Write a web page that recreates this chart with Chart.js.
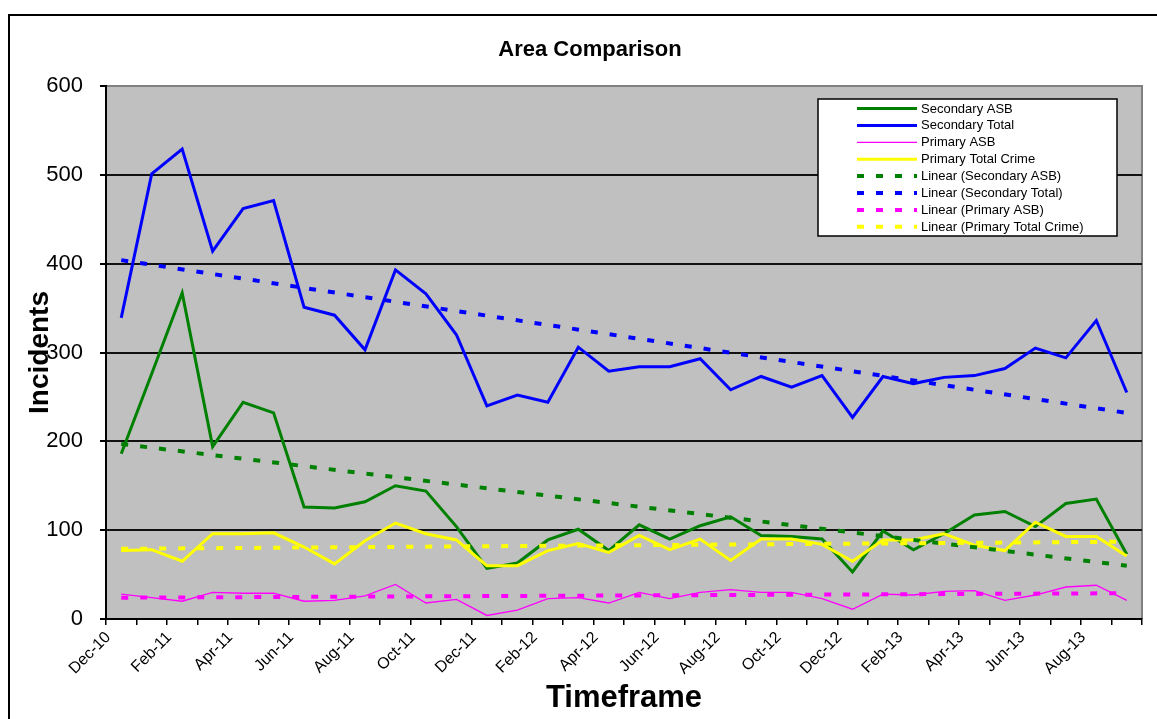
<!DOCTYPE html>
<html>
<head>
<meta charset="utf-8">
<title>Area Comparison</title>
<script src="https://cdn.jsdelivr.net/npm/chart.js@4.4.1/dist/chart.umd.min.js"></script>
<style>
  html, body { margin: 0; padding: 0; background: #fff; }
  #wrap { width: 1157px; height: 719px; }
</style>
</head>
<body>
<div id="wrap"><canvas id="chart" width="1157" height="719"></canvas></div>
<script>
// monthly figures, Dec-10 .. Sep-13
const months = [
  "Dec-10", "Jan-11", "Feb-11", "Mar-11", "Apr-11", "May-11", "Jun-11", "Jul-11", "Aug-11",
  "Sep-11", "Oct-11", "Nov-11", "Dec-11", "Jan-12", "Feb-12", "Mar-12", "Apr-12", "May-12",
  "Jun-12", "Jul-12", "Aug-12", "Sep-12", "Oct-12", "Nov-12", "Dec-12", "Jan-13", "Feb-13",
  "Mar-13", "Apr-13", "May-13", "Jun-13", "Jul-13", "Aug-13", "Sep-13"
];

const secondaryAsb = [186, 276, 367, 194, 244, 232, 126, 125, 132, 150, 144, 104, 57, 63, 89, 101, 77, 106,
  90, 105, 115, 94, 93, 90, 53, 99, 78, 96, 117, 121, 104, 130, 135, 73];
const secondaryTotal = [339, 501, 529, 414, 462, 471, 351, 342, 303, 393, 366, 320, 240, 252, 244, 306, 279, 284,
  284, 293, 258, 273, 261, 274, 227, 273, 265, 272, 274, 282, 305, 294, 336, 255];
const primaryAsb = [28, 24, 20, 30, 29, 29, 20, 21, 26, 39, 18, 22, 4, 10, 23, 24, 18, 30,
  23, 30, 33, 30, 30, 23, 11, 28, 27, 31, 32, 21, 27, 36, 38, 21];
const primaryTotalCrime = [77, 78, 65, 96, 96, 97, 81, 62, 88, 108, 96, 89, 60, 60, 77, 85, 75, 94,
  78, 90, 66, 90, 90, 84, 65, 89, 89, 96, 83, 77, 109, 93, 93, 71];

// linear trendline ends (first month, last month)
const trendStart = [197, 404, 24, 79];
const trendEnd = [60, 232, 29, 87];

const seriesNames = ["Secondary ASB", "Secondary Total", "Primary ASB", "Primary Total Crime"];
const seriesValues = [secondaryAsb, secondaryTotal, primaryAsb, primaryTotalCrime];
const seriesColors = ["#008000", "#0000ff", "#ff00ff", "#ffff00"];
const seriesWidths = [3, 3, 1.3, 3];

const yTicks = [0, 100, 200, 300, 400, 500, 600];

const FONT = "'Liberation Sans', Arial, sans-serif";

const lineSets = seriesNames.map((name, i) => ({
  label: name,
  data: seriesValues[i],
  borderColor: seriesColors[i],
  backgroundColor: seriesColors[i],
  borderWidth: seriesWidths[i],
  borderJoinStyle: "miter",
  order: 20 - i,
}));

const trendSets = seriesNames.map((name, i) => ({
  label: "Linear (" + name + ")",
  data: [
    { x: months[0], y: trendStart[i] },
    { x: months[months.length - 1], y: trendEnd[i] },
  ],
  borderColor: seriesColors[i],
  backgroundColor: seriesColors[i],
  borderWidth: 4,
  borderDash: [7, 12],
  borderCapStyle: "butt",
  order: 10 - i,
}));

// grey plot area, outer frame, title and the boxed legend
const excelLook = {
  id: "excelLook",
  beforeDraw(chart) {
    const { ctx, chartArea: a } = chart;
    ctx.save();
    ctx.fillStyle = "#fff";
    ctx.fillRect(0, 0, chart.width, chart.height);

    ctx.strokeStyle = "#000";
    ctx.lineWidth = 2;
    ctx.beginPath();
    ctx.moveTo(9, chart.height);
    ctx.lineTo(9, 15);
    ctx.lineTo(chart.width, 15);
    ctx.stroke();

    ctx.fillStyle = "#c0c0c0";
    ctx.fillRect(a.left, a.top, a.right - a.left, a.bottom - a.top);
    ctx.strokeStyle = "#808080";
    ctx.beginPath();
    ctx.moveTo(a.left, a.top);
    ctx.lineTo(a.right, a.top);
    ctx.lineTo(a.right, a.bottom);
    ctx.stroke();

    ctx.fillStyle = "#000";
    ctx.font = "bold 22px " + FONT;
    ctx.textAlign = "center";
    ctx.textBaseline = "middle";
    ctx.fillText("Area Comparison", 590, 50);
    ctx.restore();
  },
  afterDraw(chart) {
    const ctx = chart.ctx;
    const x0 = 818, y0 = 99, w = 299, h = 137;
    ctx.save();
    ctx.fillStyle = "#fff";
    ctx.fillRect(x0, y0, w, h);
    ctx.strokeStyle = "#000";
    ctx.lineWidth = 1.5;
    ctx.strokeRect(x0, y0, w, h);

    ctx.font = "13px " + FONT;
    ctx.textAlign = "left";
    ctx.textBaseline = "middle";
    chart.data.datasets.forEach((ds, i) => {
      const y = 108.5 + i * 16.9;
      ctx.setLineDash(ds.borderDash || []);
      ctx.lineCap = "butt";
      ctx.lineWidth = ds.borderWidth;
      ctx.strokeStyle = ds.borderColor;
      ctx.beginPath();
      ctx.moveTo(857, y);
      ctx.lineTo(917, y);
      ctx.stroke();
      ctx.setLineDash([]);
      ctx.fillStyle = "#000";
      ctx.fillText(ds.label, 921, y + 0.5);
    });
    ctx.restore();
  },
};

new Chart(document.getElementById("chart"), {
  type: "line",
  data: {
    labels: months,
    datasets: [...lineSets, ...trendSets],
  },
  options: {
    responsive: false,
    animation: false,
    layout: { padding: { left: 8, right: 15, top: 86, bottom: 0 } },
    elements: {
      point: { radius: 0, hoverRadius: 0 },
      line: { tension: 0 },
    },
    plugins: {
      legend: { display: false },
      title: { display: false },
      tooltip: { enabled: false },
    },
    scales: {
      x: {
        offset: true,
        ticks: {
          autoSkip: false,
          minRotation: 45,
          maxRotation: 45,
          color: "#000",
          font: { family: FONT, size: 16 },
          padding: 3,
          labelOffset: -13,
          callback(value, index) {
            return index % 2 === 0 ? this.getLabelForValue(value) : "";
          },
        },
        grid: {
          drawOnChartArea: false,
          offset: true,
          tickLength: 6,
          color: "#000",
          lineWidth: 1.5,
        },
        border: { color: "#000", width: 2 },
        title: {
          display: true,
          text: "Timeframe",
          color: "#000",
          font: { family: FONT, size: 31, weight: "bold" },
          padding: { top: 0, bottom: 2 },
        },
        afterFit(scale) { scale.height = 100; },
      },
      y: {
        min: yTicks[0],
        max: yTicks[yTicks.length - 1],
        afterBuildTicks(scale) { scale.ticks = yTicks.map(v => ({ value: v })); },
        ticks: {
          color: "#000",
          font: { family: FONT, size: 22 },
          padding: 17,
        },
        grid: {
          color: c => (c.tick && c.tick.value === 600 ? "#808080" : "#111"),
          tickColor: "#000",
          lineWidth: 2,
          tickLength: 6,
        },
        border: { color: "#000", width: 2 },
        title: {
          display: true,
          text: "Incidents",
          color: "#000",
          font: { family: FONT, size: 28, weight: "bold" },
          padding: { top: 15, bottom: 0 },
        },
        afterFit(scale) { scale.width = 98; },
      },
    },
  },
  plugins: [excelLook],
});
</script>
</body>
</html>
